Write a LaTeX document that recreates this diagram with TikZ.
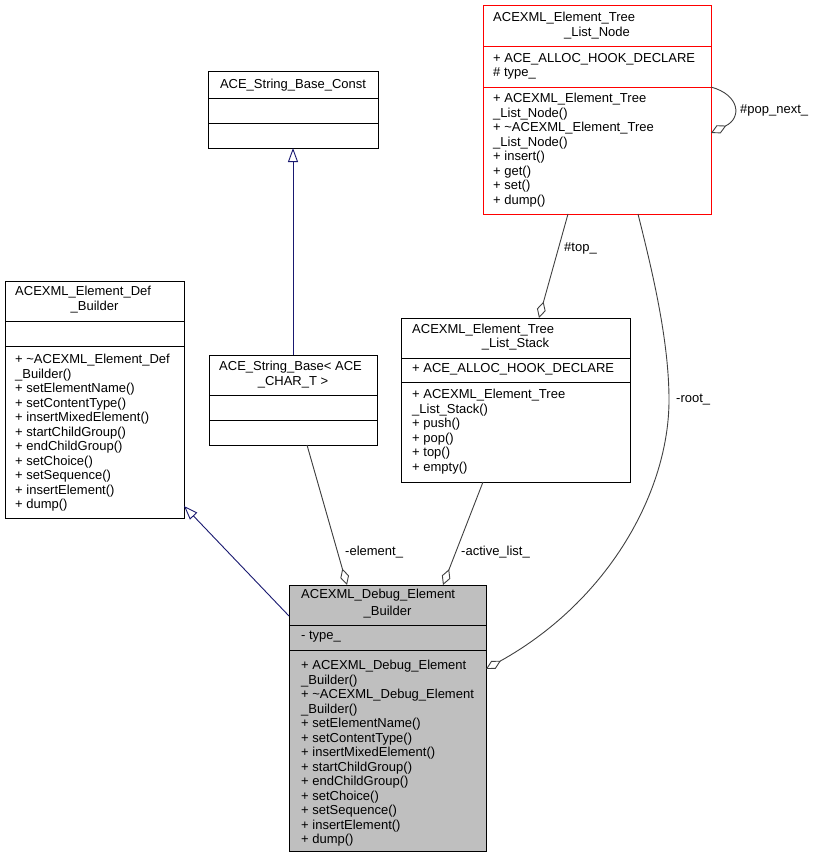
\documentclass[tikz,border=0pt]{standalone}
\usepackage{fontspec}
\setmainfont{Liberation Sans}
\usetikzlibrary{arrows.meta}
\newcommand\dgfont{\fontsize{13}{14.5}\selectfont}
\definecolor{inhblue}{HTML}{191970}
\definecolor{agggray}{HTML}{404040}
\definecolor{dbgfill}{HTML}{BFBFBF}
\begin{document}
\begin{tikzpicture}[x=1pt,y=-1pt,
  cls/.style={draw=black, line width=1pt, fill=white, rectangle, inner sep=0pt, outer sep=0pt},
  redcls/.style={cls, draw=red},
  divline/.style={draw=black, line width=1pt},
  reddiv/.style={divline, draw=red},
  ttl/.style={font=\dgfont, inner sep=0pt, anchor=west},
  ttc/.style={font=\dgfont, inner sep=0pt, anchor=center},
  mem/.style={font=\dgfont, inner sep=0pt, align=left, anchor=north west},
  elbl/.style={font=\dgfont, inner sep=0pt, anchor=west},
  inh/.style={draw=inhblue, line width=0.9pt, -{Triangle[open, length=14pt, width=10pt]}},
  agg/.style={draw=agggray, line width=0.9pt, -{Diamond[open, length=17pt, width=9pt]}}
]
\useasboundingbox (0,0) rectangle (813,859);

% ---------- class boxes ----------
\node[cls, minimum width=170pt, minimum height=76pt] (const) at (293,110) {};
\node[redcls, minimum width=228pt, minimum height=208pt] (tln) at (597,110) {};
\node[cls, minimum width=179pt, minimum height=237pt] (def) at (94.5,399.5) {};
\node[cls, minimum width=168pt, minimum height=90pt] (sbase) at (293,400) {};
\node[cls, minimum width=229pt, minimum height=164pt] (stack) at (515.5,400) {};
\node[cls, fill=dbgfill, minimum width=197pt, minimum height=266pt] (dbg) at (387.5,718) {};

% ---------- dividers ----------
\draw[divline] (const.west |- 0,98) -- (const.east |- 0,98);
\draw[divline] (const.west |- 0,123) -- (const.east |- 0,123);
\draw[reddiv] (tln.west |- 0,47) -- (tln.east |- 0,47);
\draw[reddiv] (tln.west |- 0,87) -- (tln.east |- 0,87);
\draw[divline] (def.west |- 0,321) -- (def.east |- 0,321);
\draw[divline] (def.west |- 0,346) -- (def.east |- 0,346);
\draw[divline] (sbase.west |- 0,395) -- (sbase.east |- 0,395);
\draw[divline] (sbase.west |- 0,420) -- (sbase.east |- 0,420);
\draw[divline] (stack.west |- 0,358) -- (stack.east |- 0,358);
\draw[divline] (stack.west |- 0,382) -- (stack.east |- 0,382);
\draw[divline] (dbg.west |- 0,625) -- (dbg.east |- 0,625);
\draw[divline] (dbg.west |- 0,650) -- (dbg.east |- 0,650);

% ---------- texts ----------
\node[ttc] (const-t) at (293,85) {ACE\_String\_Base\_Const};

\node[ttl] (tln-t1) at (493,18) {ACEXML\_Element\_Tree};
\node[ttc] (tln-t2) at (597,33) {\_List\_Node};
\node[mem] (tln-a) at (493,53) {+ ACE\_ALLOC\_HOOK\_DECLARE\\\# type\_};
\node[mem] (tln-m) at (493,93) {+ ACEXML\_Element\_Tree\\\_List\_Node()\\+ \textasciitilde ACEXML\_Element\_Tree\\\_List\_Node()\\+ insert()\\+ get()\\+ set()\\+ dump()};

\node[ttl] (def-t1) at (15,292) {ACEXML\_Element\_Def};
\node[ttc] (def-t2) at (94.5,307) {\_Builder};
\node[mem] (def-m) at (15,354) {+ \textasciitilde ACEXML\_Element\_Def\\\_Builder()\\+ setElementName()\\+ setContentType()\\+ insertMixedElement()\\+ startChildGroup()\\+ endChildGroup()\\+ setChoice()\\+ setSequence()\\+ insertElement()\\+ dump()};

\node[ttl] (sbase-t1) at (219,367) {ACE\_String\_Base< ACE};
\node[ttc] (sbase-t2) at (293,382) {\_CHAR\_T >};

\node[ttl] (stack-t1) at (412,330) {ACEXML\_Element\_Tree};
\node[ttc] (stack-t2) at (515.5,344) {\_List\_Stack};
\node[ttl] (stack-a) at (412,369) {+ ACE\_ALLOC\_HOOK\_DECLARE};
\node[mem] (stack-m) at (412,389) {+ ACEXML\_Element\_Tree\\\_List\_Stack()\\+ push()\\+ pop()\\+ top()\\+ empty()};

\node[ttl] (dbg-t1) at (301,595) {ACEXML\_Debug\_Element};
\node[ttc] (dbg-t2) at (387.5,612) {\_Builder};
\node[ttl] (dbg-a) at (301,637) {- type\_};
\node[mem] (dbg-m) at (301,660) {+ ACEXML\_Debug\_Element\\\_Builder()\\+ \textasciitilde ACEXML\_Debug\_Element\\\_Builder()\\+ setElementName()\\+ setContentType()\\+ insertMixedElement()\\+ startChildGroup()\\+ endChildGroup()\\+ setChoice()\\+ setSequence()\\+ insertElement()\\+ dump()};

% ---------- connectors ----------
\draw[inh] (sbase.north) -- (const.south);
\draw[inh] (dbg.west |- 0,616) -- (def.east |- 0,506);
\draw[agg] (sbase.south -| 307,0) -- (dbg.north -| 347,0);
\draw[agg] (stack.south -| 483,0) -- (dbg.north -| 443,0);
\draw[agg] (tln.south -| 568,0) -- (stack.north -| 539,0);
\draw[agg] (tln.south -| 638,0) .. controls (652,270) and (669,340) .. (669,400)
  .. controls (669,490) and (610,600) .. (dbg.east |- 0,669);
\draw[agg] (tln.east |- 0,87) .. controls (740,95) and (742,118) .. (tln.east |- 0,133);

% ---------- edge labels ----------
\node[elbl] (l-element) at (345,552) {-element\_};
\node[elbl] (l-active) at (461,552) {-active\_list\_};
\node[elbl] (l-top) at (564,248) {\#top\_};
\node[elbl] (l-root) at (676,400) {-root\_};
\node[elbl] (l-pop) at (740,110) {\#pop\_next\_};
\end{tikzpicture}
\end{document}
